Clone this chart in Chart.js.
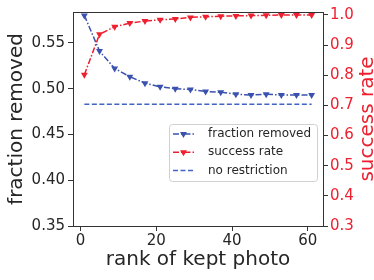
<!DOCTYPE html>
<html>
<head>
<meta charset="utf-8">
<script src="https://cdn.jsdelivr.net/npm/chart.js@4"></script>
<style>
  html, body { margin: 0; padding: 0; background: #fff; }
</style>
</head>
<body>
<canvas id="myChart" width="374" height="280"></canvas>
<script>
// data
var rank = [1, 5, 9, 13, 17, 21, 25, 29, 33, 37, 41, 45, 49, 53, 57, 61]
var fractionRemoved = [0.580, 0.541, 0.522, 0.513, 0.506, 0.502, 0.500, 0.499, 0.497, 0.496, 0.494, 0.493, 0.494, 0.493, 0.493, 0.493]
var successRate = [0.802, 0.936, 0.961, 0.973, 0.980, 0.984, 0.987, 0.992, 0.994, 0.996, 0.997, 0.998, 0.999, 1.0, 1.0, 1.0]
var noRestrictionX = [1, 61]
var noRestriction = [0.483, 0.483]

var xTicks = [0, 20, 40, 60]
var leftTicks = [0.35, 0.40, 0.45, 0.50, 0.55]
var rightTicks = [0.3, 0.4, 0.5, 0.6, 0.7, 0.8, 0.9, 1.0]

var BLUE = "#3a52ae"
var RED = "#ee1f2e"
var DASHBLUE = "#4163c4"
var INK = "#262626"
var FONT = "DejaVu Sans"

function pts(xs, ys) {
    return xs.map(function (x, i) { return { x: x, y: ys[i] } })
}

function fixTicks(list) {
    return function (scale) {
        scale.ticks = list.map(function (v) { return { value: v } })
    }
}

function triangleDown(ctx, x, y, r, color) {
    ctx.save()
    ctx.setLineDash([])
    ctx.fillStyle = color
    ctx.beginPath()
    ctx.moveTo(x, y + r)
    ctx.lineTo(x - r * 0.866, y - r * 0.5)
    ctx.lineTo(x + r * 0.866, y - r * 0.5)
    ctx.closePath()
    ctx.fill()
    ctx.restore()
}

// top spine, right axis title (bottom-to-top) and legend box inside the plot
var framePlugin = {
    id: "frame",
    afterDraw: function (chart) {
        var ctx = chart.ctx
        var a = chart.chartArea
        ctx.save()
        ctx.strokeStyle = "#333"
        ctx.lineWidth = 1
        ctx.beginPath()
        ctx.moveTo(a.left, a.top + 0.5)
        ctx.lineTo(a.right, a.top + 0.5)
        ctx.stroke()

        // right axis title
        ctx.save()
        ctx.translate(367.5, (a.top + a.bottom) / 2)
        ctx.rotate(-Math.PI / 2)
        ctx.fillStyle = RED
        ctx.font = "20px '" + FONT + "'"
        ctx.textAlign = "center"
        ctx.textBaseline = "middle"
        ctx.fillText("success rate", 0, 0)
        ctx.restore()

        // legend
        var bx = 169.5, by = 124.5, bw = 148, bh = 57
        ctx.fillStyle = "rgba(255,255,255,0.8)"
        ctx.strokeStyle = "#d0d0d0"
        ctx.beginPath()
        ctx.roundRect(bx, by, bw, bh, 3)
        ctx.fill()
        ctx.stroke()

        var items = [
            { text: "fraction removed", color: BLUE, dash: [6, 2, 1.5, 2], marker: true },
            { text: "success rate", color: RED, dash: [6, 2, 1.5, 2], marker: true },
            { text: "no restriction", color: DASHBLUE, dash: [5, 2.5], marker: false }
        ]
        items.forEach(function (it, i) {
            var y = 134 + i * 18.3
            ctx.strokeStyle = it.color
            ctx.lineWidth = 1.5
            ctx.setLineDash(it.dash)
            ctx.beginPath()
            ctx.moveTo(173, y)
            ctx.lineTo(194, y)
            ctx.stroke()
            ctx.setLineDash([])
            if (it.marker) triangleDown(ctx, 183.5, y, 4, it.color)
            ctx.fillStyle = INK
            ctx.font = "12px '" + FONT + "'"
            ctx.textBaseline = "middle"
            ctx.textAlign = "left"
            ctx.fillText(it.text, 208, y)
        })
        ctx.restore()
    }
}

var myChart = document.getElementById("myChart").getContext("2d")

var chart = new Chart(myChart, {
    type: "line",
    data: {
        datasets: [
            {
                label: "fraction removed",
                data: pts(rank, fractionRemoved),
                yAxisID: "y",
                borderColor: BLUE,
                backgroundColor: BLUE,
                borderWidth: 1.5,
                borderDash: [6, 2, 1.5, 2],
                pointStyle: "triangle",
                rotation: 180,
                pointRadius: 4,
                pointBorderWidth: 0,
                fill: false
            },
            {
                label: "success rate",
                data: pts(rank, successRate),
                yAxisID: "y2",
                borderColor: RED,
                backgroundColor: RED,
                borderWidth: 1.5,
                borderDash: [6, 2, 1.5, 2],
                pointStyle: "triangle",
                rotation: 180,
                pointRadius: 4,
                pointBorderWidth: 0,
                fill: false
            },
            {
                label: "no restriction",
                data: pts(noRestrictionX, noRestriction),
                yAxisID: "y",
                borderColor: DASHBLUE,
                borderWidth: 1.5,
                borderDash: [5, 2.5],
                pointRadius: 0,
                fill: false
            }
        ]
    },
    options: {
        responsive: false,
        animation: false,
        devicePixelRatio: 1,
        layout: { padding: { top: 11, left: 0, right: 0, bottom: 0 } },
        plugins: {
            legend: { display: false },
            tooltip: { enabled: false }
        },
        scales: {
            x: {
                type: "linear",
                min: -2,
                max: 64,
                afterBuildTicks: fixTicks(xTicks),
                afterFit: function (s) { s.height = 54 },
                grid: { drawOnChartArea: false, tickLength: 5, tickColor: "#333" },
                border: { color: "#333" },
                ticks: { color: INK, padding: 1, font: { family: FONT, size: 15 } },
                title: {
                    display: true,
                    text: "rank of kept photo",
                    color: INK,
                    padding: { top: 0, bottom: 8 },
                    font: { family: FONT, size: 20 }
                }
            },
            y: {
                position: "left",
                min: 0.35,
                max: 0.5837,
                afterBuildTicks: fixTicks(leftTicks),
                afterFit: function (s) { s.width = 73 },
                grid: { drawOnChartArea: false, tickLength: 5, tickColor: "#333" },
                border: { color: "#333" },
                ticks: {
                    color: INK,
                    padding: 3,
                    font: { family: FONT, size: 15 },
                    callback: function (v) { return v.toFixed(2) }
                },
                title: {
                    display: true,
                    text: "fraction removed",
                    color: INK,
                    padding: { top: 5, bottom: 0 },
                    font: { family: FONT, size: 20 }
                }
            },
            y2: {
                position: "right",
                min: 0.3,
                max: 1.0099,
                afterBuildTicks: fixTicks(rightTicks),
                afterFit: function (s) { s.width = 51 },
                grid: { drawOnChartArea: false, tickLength: 5, tickColor: "#333" },
                border: { color: "#333" },
                ticks: {
                    color: RED,
                    padding: 2,
                    font: { family: FONT, size: 15 },
                    callback: function (v) { return v.toFixed(1) }
                },
                title: { display: false }
            }
        }
    },
    plugins: [framePlugin]
})
</script>
</body>
</html>
